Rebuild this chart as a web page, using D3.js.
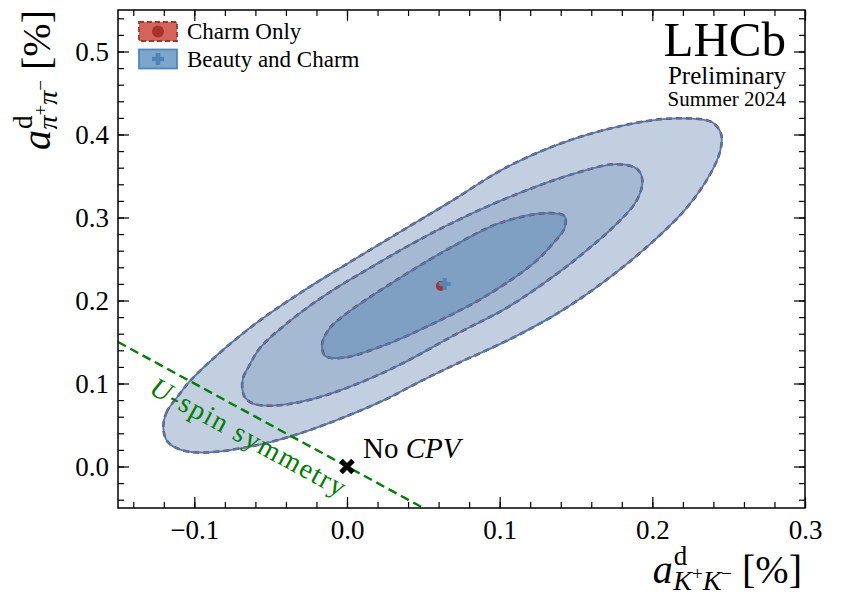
<!DOCTYPE html>
<html><head><meta charset="utf-8">
<script src="https://cdn.jsdelivr.net/npm/d3@7"></script>
<style>body{margin:0;background:#fff}svg{display:block}svg text{font-family:"Liberation Serif","Times New Roman",serif !important}</style>
</head><body><svg id="c" width="841" height="596"></svg>
<script>
// ---- data ----
const xTicks = [-0.1, 0.0, 0.1, 0.2, 0.3];
const yTicks = [0.0, 0.1, 0.2, 0.3, 0.4, 0.5];
const xTickLabels = ["\u22120.1", "0.0", "0.1", "0.2", "0.3"];
const yTickLabels = ["0.0", "0.1", "0.2", "0.3", "0.4", "0.5"];
// 3 sigma contour (a_KK, a_pipi) [%]
const contour3 = [[-0.1203,0.0457],[-0.1183,0.0649],[-0.1105,0.0853],[-0.1026,0.1034],[-0.0863,0.1322],[-0.0601,0.1719],[-0.0307,0.2091],[0.0020,0.2464],[0.0346,0.2825],[0.0673,0.3185],[0.1046,0.3606],[0.1477,0.3942],[0.1915,0.4147],[0.2176,0.4195],[0.2392,0.4147],[0.2451,0.4002],[0.2444,0.3798],[0.2379,0.3522],[0.2229,0.3125],[0.2000,0.2704],[0.1699,0.2248],[0.1373,0.1839],[0.1046,0.1514],[0.0719,0.1238],[0.0477,0.1022],[0.0235,0.0793],[-0.0092,0.0541],[-0.0373,0.0361],[-0.0634,0.0240],[-0.0941,0.0168],[-0.1092,0.0204],[-0.1176,0.0300]];
// 2 sigma contour
const contour2 = [[-0.0686,0.0938],[-0.0680,0.1070],[-0.0641,0.1214],[-0.0569,0.1430],[-0.0373,0.1755],[-0.0131,0.2079],[0.0150,0.2392],[0.0458,0.2716],[0.0673,0.2921],[0.1046,0.3233],[0.1477,0.3522],[0.1765,0.3642],[0.1902,0.3582],[0.1935,0.3438],[0.1895,0.3197],[0.1765,0.2921],[0.1588,0.2632],[0.1373,0.2320],[0.1046,0.1911],[0.0719,0.1599],[0.0346,0.1226],[0.0020,0.0962],[-0.0242,0.0805],[-0.0484,0.0733],[-0.0614,0.0757],[-0.0667,0.0829]];
// 1 sigma contour
const contour1 = [[-0.0163,0.1478],[-0.0111,0.1671],[0.0020,0.1875],[0.0346,0.2272],[0.0673,0.2632],[0.1000,0.2933],[0.1307,0.3053],[0.1425,0.3017],[0.1425,0.2873],[0.1346,0.2680],[0.1216,0.2440],[0.0889,0.2031],[0.0562,0.1719],[0.0235,0.1454],[-0.0026,0.1310],[-0.0144,0.1334]];
const charmOnlyBest = [0.0615, 0.2175];
const beautyCharmBest = [0.0640, 0.2200];
const noCPV = [0.0, 0.0];
const uspinLine = [[-0.15, 0.15], [0.05, -0.05]];

// ---- layout ----
const W = 841, H = 596;
const m = {l:118, r:36, t:10, b:88};
const svg = d3.select("#c");
const x = d3.scaleLinear().domain([-0.15, 0.30]).range([m.l, W - m.r]);
const y = d3.scaleLinear().domain([-0.05, 0.55]).range([H - m.b, m.t]);
const serif = "Liberation Serif";

svg.append("defs").append("clipPath").attr("id","clip")
  .append("rect").attr("x", m.l).attr("y", m.t).attr("width", W-m.l-m.r).attr("height", H-m.t-m.b);
const plot = svg.append("g").attr("clip-path","url(#clip)");

const line = d3.line().x(d => x(d[0])).y(d => y(d[1])).curve(d3.curveCatmullRomClosed.alpha(0.5));
const fills = ["#c1cfe1", "#a6b9d2", "#7f9fc3"];
const contours = [contour3, contour2, contour1];
contours.forEach((c, i) => {
  plot.append("path").attr("d", line(c)).attr("fill", fills[i]).attr("stroke", "none");
});
// Charm only contours (dashed red)
contours.forEach(c => {
  plot.append("path").attr("d", line(c)).attr("fill", "none")
    .attr("stroke", "#9e2b23").attr("stroke-width", 2.5).attr("stroke-dasharray", "6,4");
});
// Beauty and charm contours (solid blue)
contours.forEach(c => {
  plot.append("path").attr("d", line(c)).attr("fill", "none")
    .attr("stroke", "#4a7db2").attr("stroke-width", 1.8);
});

// U-spin line
plot.append("line")
  .attr("x1", x(uspinLine[0][0])).attr("y1", y(uspinLine[0][1]))
  .attr("x2", x(uspinLine[1][0])).attr("y2", y(uspinLine[1][1]))
  .attr("stroke", "#008000").attr("stroke-width", 2.4).attr("stroke-dasharray", "9,5");

// best-fit points
plot.append("circle").attr("cx", x(charmOnlyBest[0])).attr("cy", y(charmOnlyBest[1])).attr("r", 5)
  .attr("fill", "#a8332b");
plot.append("path")
  .attr("d", `M${x(beautyCharmBest[0])-6},${y(beautyCharmBest[1])}h12M${x(beautyCharmBest[0])},${y(beautyCharmBest[1])-6}v12`)
  .attr("stroke", "#5386b8").attr("stroke-width", 4);

// No CPV marker
const nx = x(noCPV[0]), ny = y(noCPV[1]);
plot.append("path").attr("d", `M${nx-6},${ny-6}L${nx+6},${ny+6}M${nx-6},${ny+6}L${nx+6},${ny-6}`)
  .attr("stroke", "#000").attr("stroke-width", 5);

// ---- axes ----
function styleAxis(g){
  g.attr("font-family", serif);
  g.select(".domain").remove();
  g.selectAll("line").attr("stroke","#000").attr("stroke-width",1.2);
  g.selectAll("text").attr("font-family", serif).attr("font-size", 27).attr("fill","#000");
}
const xMinor = d3.range(-0.14, 0.301, 0.02);
const yMinor = d3.range(-0.04, 0.551, 0.02);
const bx = H - m.b, tx = m.t, ly = m.l, ry = W - m.r;
svg.append("g").attr("transform",`translate(0,${bx})`)
  .call(d3.axisBottom(x).tickValues(xMinor).tickSize(-6).tickFormat("")).call(styleAxis);
svg.append("g").attr("transform",`translate(0,${bx})`)
  .call(d3.axisBottom(x).tickValues(xTicks).tickSize(-11).tickPadding(12).tickFormat((d,i)=>xTickLabels[i])).call(styleAxis);
svg.append("g").attr("transform",`translate(0,${tx})`)
  .call(d3.axisTop(x).tickValues(xMinor).tickSize(-6).tickFormat("")).call(styleAxis);
svg.append("g").attr("transform",`translate(0,${tx})`)
  .call(d3.axisTop(x).tickValues(xTicks).tickSize(-11).tickFormat("")).call(styleAxis);
svg.append("g").attr("transform",`translate(${ly},0)`)
  .call(d3.axisLeft(y).tickValues(yMinor).tickSize(-6).tickFormat("")).call(styleAxis);
svg.append("g").attr("transform",`translate(${ly},0)`)
  .call(d3.axisLeft(y).tickValues(yTicks).tickSize(-11).tickPadding(9).tickFormat((d,i)=>yTickLabels[i])).call(styleAxis);
svg.append("g").attr("transform",`translate(${ry},0)`)
  .call(d3.axisRight(y).tickValues(yMinor).tickSize(-6).tickFormat("")).call(styleAxis);
svg.append("g").attr("transform",`translate(${ry},0)`)
  .call(d3.axisRight(y).tickValues(yTicks).tickSize(-11).tickFormat("")).call(styleAxis);
svg.append("rect").attr("x", m.l).attr("y", m.t).attr("width", W-m.l-m.r).attr("height", H-m.t-m.b)
  .attr("fill","none").attr("stroke","#000").attr("stroke-width",1.5);

// ---- axis labels ----
function label(t, sub, subSup){
  t.attr("font-family", serif).attr("fill","#000");
  t.append("tspan").attr("font-style","italic").attr("font-size",40).text("a");
  t.append("tspan").attr("font-size",27).attr("dy",-18).attr("dx",1).text("d");
  t.append("tspan").attr("font-size",28).attr("dx",-14).attr("dy",25).attr("font-style","italic").text(sub[0]);
  t.append("tspan").attr("font-size",19).attr("dy",-10).text(subSup[0]);
  t.append("tspan").attr("font-size",28).attr("dy",10).attr("font-style","italic").text(sub[1]);
  t.append("tspan").attr("font-size",19).attr("dy",-10).text(subSup[1]);
  t.append("tspan").attr("font-size",40).attr("dy",3).attr("dx",10).text("[%]");
}
label(svg.append("text").attr("x", 802).attr("y", 583).attr("text-anchor","end"),
  ["K","K"], ["+","\u2212"]);
label(svg.append("text").attr("transform","translate(50,10) rotate(-90)").attr("text-anchor","end"),
  ["\u03c0","\u03c0"], ["+","\u2212"]);

// ---- annotations ----
svg.append("text").attr("x", 363).attr("y", 458).attr("font-family", serif).attr("font-size", 29)
  .call(t => { t.append("tspan").text("No "); t.append("tspan").attr("font-style","italic").text("CPV"); });
const ang = Math.atan2(y(uspinLine[1][1]) - y(uspinLine[0][1]), x(uspinLine[1][0]) - x(uspinLine[0][0])) * 180 / Math.PI;
svg.append("text").attr("transform", `translate(148,393) rotate(${ang})`)
  .attr("font-family", serif).attr("font-size", 28).attr("fill", "#008000")
  .attr("textLength", 218).attr("lengthAdjust","spacing")
  .call(t => { t.append("tspan").attr("font-style","italic").text("U"); t.append("tspan").text("-spin symmetry"); });

// LHCb
svg.append("text").attr("x", 786).attr("y", 56).attr("text-anchor","end")
  .attr("font-family", serif).attr("font-size", 49).text("LHCb");
svg.append("text").attr("x", 786).attr("y", 84).attr("text-anchor","end")
  .attr("font-family", serif).attr("font-size", 25).text("Preliminary");
svg.append("text").attr("x", 786).attr("y", 106).attr("text-anchor","end")
  .attr("font-family", serif).attr("font-size", 21).text("Summer 2024");

// ---- legend ----
const leg = svg.append("g");
const legItems = [
  {name:"Charm Only", fill:"#d4645a", edge:"#a8332b", dash:"5,3", marker:"circle", mcol:"#a8332b"},
  {name:"Beauty and Charm", fill:"#7ba7cf", edge:"#5386b8", dash:null, marker:"plus", mcol:"#4f83b6"}
];
legItems.forEach((d, i) => {
  const y0 = 22 + i * 27.5;
  leg.append("rect").attr("x", 139).attr("y", y0).attr("width", 38).attr("height", 19)
    .attr("fill", d.fill).attr("stroke", d.edge).attr("stroke-width", 1.8)
    .attr("stroke-dasharray", d.dash);
  const cx = 158, cy = y0 + 9.5;
  if (d.marker === "circle") leg.append("circle").attr("cx", cx).attr("cy", cy).attr("r", 6).attr("fill", d.mcol);
  else leg.append("path").attr("d", `M${cx-6},${cy}h12M${cx},${cy-6}v12`).attr("stroke", d.mcol).attr("stroke-width", 4.5);
  leg.append("text").attr("x", 187).attr("y", y0 + 17).attr("font-family", serif).attr("font-size", 23).text(d.name);
});
</script></body></html>
